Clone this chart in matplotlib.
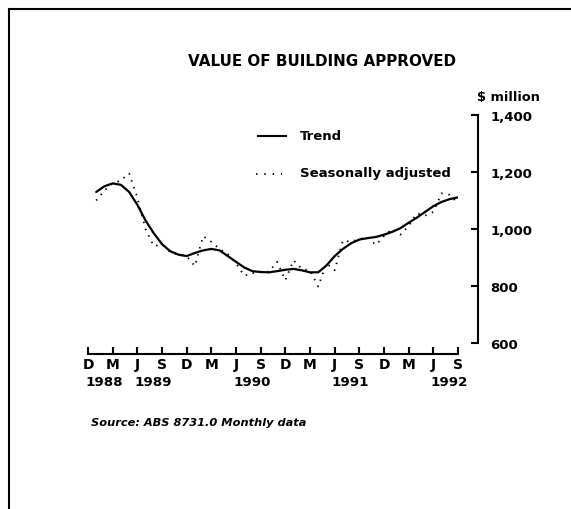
import matplotlib
matplotlib.use("Agg")
import matplotlib.pyplot as plt
import matplotlib.transforms as mtransforms
from matplotlib.lines import Line2D

plt.rcParams['font.family'] = ['DejaVu Sans']

# Months since Dec 1988 (1 = Jan 1989 ... 45 = Sep 1992)
months = list(range(1, 46))
trend = [1130, 1150, 1160, 1155, 1130, 1085, 1030, 985, 947, 922,
         910, 905, 916, 925, 930, 925, 905, 885, 865, 852,
         849, 848, 852, 857, 860, 855, 848, 848, 872, 905,
         930, 950, 963, 968, 972, 980, 990, 1003, 1022, 1040,
         1060, 1080, 1095, 1105, 1111]
seas_adj = [1100, 1135, 1160, 1170, 1195, 1110, 1000, 940, 945, 920,
            910, 905, 870, 975, 955, 930, 912, 880, 836, 845,
            850, 850, 885, 820, 890, 860, 855, 798, 880, 855,
            960, 955, 965, 971, 944, 975, 1000, 980, 1010, 1055,
            1047, 1060, 1125, 1120, 1090]
tick_pos = list(range(0, 46, 3))
tick_labels = ["D", "M", "J", "S", "D", "M", "J", "S",
               "D", "M", "J", "S", "D", "M", "J", "S"]
year_pos = [0, 6, 18, 30, 42]
year_labels = ["1988", "1989", "1990", "1991", "1992"]
y_ticks = [600, 800, 1000, 1200, 1400]
y_labels = ["600", "800", "1,000", "1,200", "1,400"]

W, H = 571, 510
fig = plt.figure(figsize=(W / 100, H / 100), dpi=100)

x0, x1 = 88, 458
ytop, ybot = 116, 344
ax = fig.add_axes([x0 / W, (H - ybot) / H, (x1 - x0) / W, (ybot - ytop) / H])
ax.set_xlim(0, 45)
ax.set_ylim(600, 1400)

ax.plot(months, seas_adj, color='black', linestyle=(0, (0.8, 3.2)), linewidth=1.3)
ax.plot(months, trend, color='black', linewidth=1.6, solid_capstyle='round')

for s in ['top', 'left']:
    ax.spines[s].set_visible(False)
ax.spines['right'].set_position(('outward', 20 * 0.72))
ax.spines['bottom'].set_position(('outward', 11 * 0.72))
ax.spines['right'].set_linewidth(1.5)
ax.spines['bottom'].set_linewidth(1.5)
ax.spines['right'].set_bounds(600, 1400)
ax.spines['bottom'].set_bounds(0, 45)

ax.yaxis.tick_right()
ax.set_yticks(y_ticks)
ax.set_yticklabels(y_labels, fontweight='bold')
ax.tick_params(axis='y', direction='in', length=5, width=1.5, pad=9,
               labelsize=9.5)
ax.set_xticks(tick_pos)
ax.set_xticklabels(tick_labels, fontweight='bold')
ax.tick_params(axis='x', direction='in', length=5, width=1.5, pad=2.5,
               labelsize=10)

# Year labels, left-aligned under their month letters
trans = mtransforms.blended_transform_factory(ax.transData, fig.transFigure)
offset = mtransforms.ScaledTranslation(-3 / 100, 0, fig.dpi_scale_trans)
for p, yl in zip(year_pos, year_labels):
    ax.text(p, 1 - 383 / H, yl, transform=trans + offset, ha='left',
            va='center', fontsize=9.6, fontweight='bold')

# Title and unit label
fig.text(322 / W, 1 - 62 / H, "VALUE OF BUILDING APPROVED", ha='center',
         va='center', fontsize=10.9, fontweight='bold')
fig.text(477 / W, 1 - 97 / H, "$ million", ha='left', va='center',
         fontsize=9.3, fontweight='bold')

# Legend (manual)
fig.add_artist(Line2D([258 / W, 286 / W], [1 - 137 / H, 1 - 137 / H],
                      color='black', linewidth=1.5))
fig.add_artist(Line2D([256 / W, 282 / W], [1 - 175 / H, 1 - 175 / H],
                      color='black', linewidth=1.3,
                      linestyle=(0, (0.8, 3.8))))
fig.text(300 / W, 1 - 137 / H, "Trend", ha='left', va='center',
         fontsize=9.5, fontweight='bold')
fig.text(300 / W, 1 - 174 / H, "Seasonally adjusted", ha='left',
         va='center', fontsize=9.5, fontweight='bold')

# Source
fig.text(91 / W, 1 - 423 / H, "Source: ABS 8731.0 Monthly data", ha='left',
         va='center', fontsize=8.2, fontstyle='italic', fontweight='bold')

# Frame (top and left)
fig.add_artist(Line2D([9 / W, 1.0], [1 - 10 / H, 1 - 10 / H],
                      color='black', linewidth=1.5))
fig.add_artist(Line2D([9 / W, 9 / W], [0, 1 - 10 / H],
                      color='black', linewidth=1.5))

fig.savefig("out.png", dpi=100)
